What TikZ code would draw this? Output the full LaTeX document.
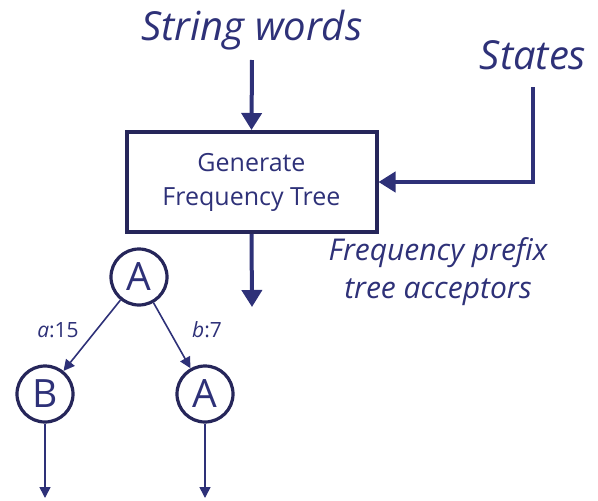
\documentclass[tikz,border=0pt]{standalone}
\usepackage{fontspec}
\setmainfont{Open Sans}
\usetikzlibrary{arrows.meta}
\definecolor{navy}{HTML}{2E3178}
\definecolor{dnavy}{HTML}{26265A}
\begin{document}
\begin{tikzpicture}[x=1pt,y=-1pt,
  txt/.style={text=navy,inner sep=0pt},
  big/.style={txt,font=\fontsize{40}{46}\selectfont\itshape},
  st/.style={circle,draw=dnavy,line width=3.2pt,minimum size=56pt,inner sep=0pt,text=navy,font=\fontsize{39}{44}\selectfont},
  thick arr/.style={draw=navy,line width=4pt,-{Triangle[length=17pt,width=20pt]}},
  thin arr/.style={draw=navy,line width=1.6pt,-{Triangle[length=11pt,width=11pt]}},
  lbl/.style={txt,font=\fontsize{21}{24}\selectfont}
]
\useasboundingbox (0,0) rectangle (598,501);
\node[big] (sw) at (252,30) {String words};
\node[big] (stt) at (533,55) {States};
\node[draw=dnavy,line width=4pt,minimum width=250pt,minimum height=100pt,inner sep=0pt,
  text=navy,align=center,font=\fontsize{25}{34}\selectfont] (box) at (251.5,182) {Generate\\Frequency Tree};
\node[txt,align=center,font=\fontsize{30}{38}\selectfont\itshape] (fp) at (438,272) {Frequency prefix\\tree acceptors};
\coordinate (swe) at (252,60);
\coordinate (ste) at (533,87);
\coordinate (corner) at (533,182);
\coordinate (oute) at (252,307);
\draw[thick arr] (swe) -- (box.north);
\draw[thick arr] (ste) -- (corner) -- (box.east);
\draw[thick arr] (box.south) -- (oute);

\node[st] (r) at (139,277) {A};
\node[st] (b) at (45,394) {B};
\node[st] (a) at (205,394) {A};
\draw[thin arr] (r) -- (b);
\draw[thin arr] (r) -- (a);
\node[lbl] (la) at (58,330) {\textit{a}:15};
\node[lbl] (lb) at (207,330) {\textit{b}:7};
\coordinate (be) at (45,498);
\coordinate (ae) at (205,498);
\draw[thin arr] (b) -- (be);
\draw[thin arr] (a) -- (ae);
\end{tikzpicture}
\end{document}
